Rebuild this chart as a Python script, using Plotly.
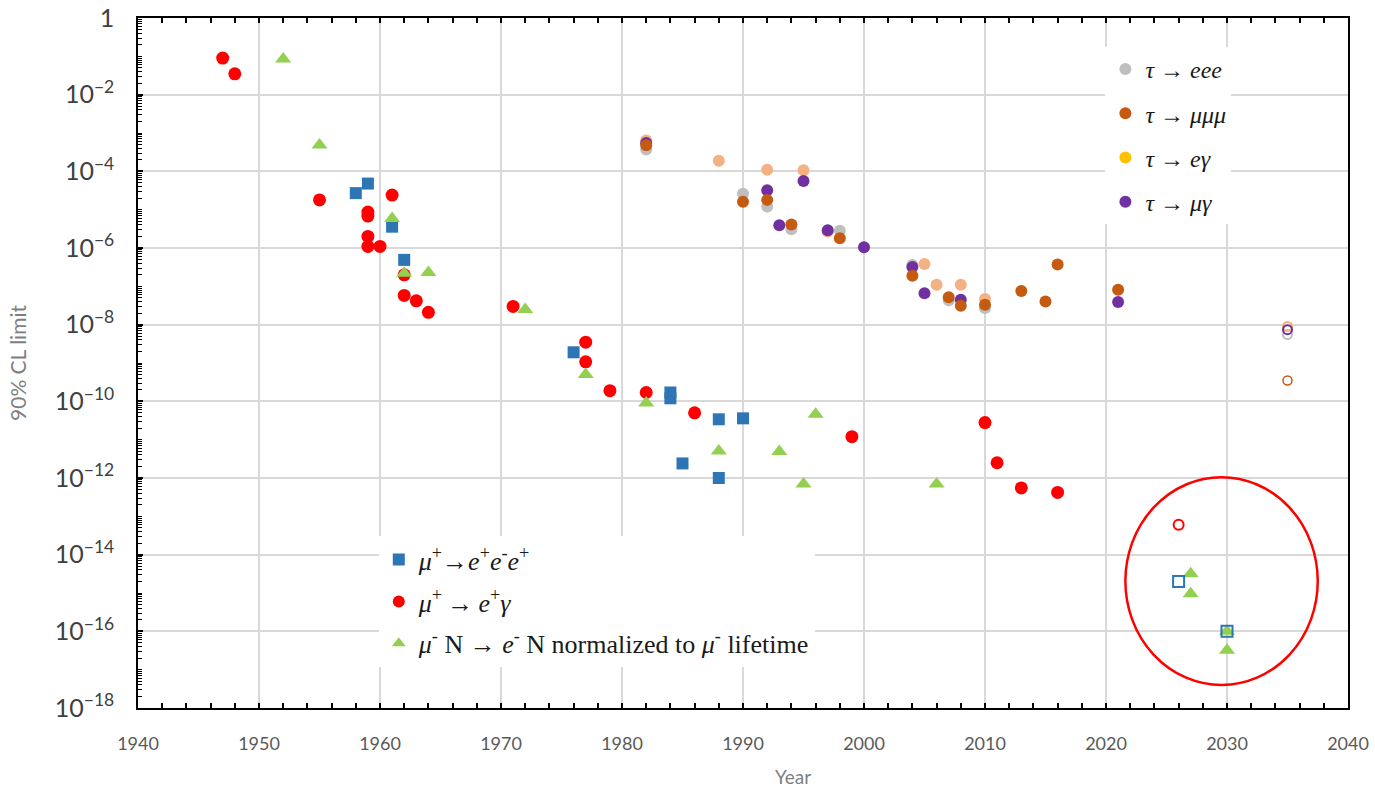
import plotly.graph_objects as go

# ---------------- data ----------------
# mu+ -> e+ e- e+ (blue squares)
meee_year = [1958, 1959, 1961, 1962, 1976, 1984, 1984, 1985, 1988, 1988, 1990]
meee_val = [2.7e-5, 4.8e-5, 3.6e-6, 4.9e-7, 1.9e-9, 1.7e-10, 1.2e-10, 2.4e-12, 3.4e-11, 1.0e-12, 3.6e-11]
meee_proj_year = [2026, 2030]
meee_proj_val = [2.0e-15, 1.0e-16]

# mu+ -> e+ gamma (red circles)
meg_year = [1947, 1948, 1955, 1959, 1959, 1959, 1959, 1960, 1961, 1962, 1962, 1963, 1964,
            1971, 1977, 1977, 1979, 1982, 1986, 1999, 2010, 2011, 2013, 2016]
meg_val = [9e-2, 3.5e-2, 1.8e-5, 8.7e-6, 6.8e-6, 2e-6, 1.1e-6, 1.1e-6, 2.4e-5, 2e-7, 5.8e-8, 4.2e-8, 2.1e-8,
           3e-8, 3.5e-9, 1.07e-9, 1.9e-10, 1.7e-10, 5e-11, 1.2e-11, 2.8e-11, 2.5e-12, 5.5e-13, 4.2e-13]
meg_proj_year = [2026]
meg_proj_val = [6e-14]

# mu- N -> e- N (green triangles)
mec_year = [1952, 1955, 1961, 1962, 1964, 1972, 1977, 1982, 1988, 1993, 1995, 1996, 2006]
mec_val = [8.5e-2, 4.9e-4, 5.9e-6, 2.2e-7, 2.3e-7, 2.5e-8, 5e-10, 9e-11, 5.1e-12, 4.9e-12, 7e-13, 4.6e-11, 7e-13]
mec_proj_year = [2027, 2027, 2030, 2030]
mec_proj_val = [3.2e-15, 9.5e-16, 1.0e-16, 3.2e-17]

# tau -> eee (gray)
teee_year = [1982, 1990, 1992, 1994, 1998, 2004, 2007, 2010]
teee_val = [3.7e-4, 2.6e-5, 1.2e-5, 3.1e-6, 2.8e-6, 3.6e-7, 4.3e-8, 2.7e-8]
teee_proj_year = [2035]
teee_proj_val = [5.5e-9]

# tau -> mu mu mu (orange)
tmmm_year = [1982, 1990, 1992, 1994, 1998, 2004, 2007, 2008, 2010, 2013, 2015, 2016, 2021]
tmmm_val = [4.8e-4, 1.6e-5, 1.8e-5, 4.1e-6, 1.8e-6, 1.9e-7, 5.2e-8, 3.1e-8, 3.3e-8, 7.6e-8, 4e-8, 3.7e-7, 8.1e-8]
tmmm_proj_year = [2035]
tmmm_proj_val = [3.5e-10]

# tau -> e gamma (peach)
teg_year = [1982, 1988, 1992, 1995, 1997, 2005, 2006, 2008, 2010]
teg_val = [6.4e-4, 1.9e-4, 1.1e-4, 1.07e-4, 2.7e-6, 3.8e-7, 1.1e-7, 1.1e-7, 4.7e-8]
teg_proj_year = [2035]
teg_proj_val = [9e-9]

# tau -> mu gamma (purple)
tmg_year = [1982, 1992, 1993, 1995, 1997, 2000, 2004, 2005, 2008, 2021]
tmg_val = [5.5e-4, 3.2e-5, 3.9e-6, 5.6e-5, 2.9e-6, 1.05e-6, 3.2e-7, 6.6e-8, 4.5e-8, 3.9e-8]
tmg_proj_year = [2035]
tmg_proj_val = [7.4e-9]

tau_labels = ["<i>τ</i> → <i>eee</i>", "<i>τ</i> → <i>μμμ</i>", "<i>τ</i> → <i>eγ</i>", "<i>τ</i> → <i>μγ</i>"]
mu_labels = ["<i>μ</i><sup>+</sup>→<i>e</i><sup>+</sup><i>e</i><sup>-</sup><i>e</i><sup>+</sup>",
             "<i>μ</i><sup>+</sup>\u2009→\u2009<i>e</i><sup>+</sup><i>γ</i>",
             "<i>μ</i><sup>-</sup> N → <i>e</i><sup>-</sup> N normalized to <i>μ</i><sup>-</sup> lifetime"]

year_ticks = list(range(1940, 2041, 10))

# ---------------- style ----------------
C_BLUE = "#2E75B6"
C_RED = "#FF0000"
C_GREEN = "#92D050"
C_GRAY = "#BFBFBF"
C_ORANGE = "#C55A11"
C_PEACH = "#F4B183"
C_GOLD = "#FFC000"
C_PURPLE = "#7030A0"

fig = go.Figure()


def pts(x, y, color, symbol, size, open_=False, lw=2):
    if open_:
        marker = dict(color=color, symbol=symbol, size=size, line=dict(color=color, width=lw))
    else:
        marker = dict(color=color, symbol=symbol, size=size, line=dict(width=0))
    fig.add_trace(go.Scatter(x=x, y=y, mode="markers", marker=marker, showlegend=False,
                             hoverinfo="x+y"))


# tau series (draw order: gray, peach, purple, orange)
pts(teee_year, teee_val, C_GRAY, "circle", 12)
pts(teg_year, teg_val, C_PEACH, "circle", 12)
pts(tmg_year, tmg_val, C_PURPLE, "circle", 12)
pts(tmmm_year, tmmm_val, C_ORANGE, "circle", 12)
pts(teee_proj_year, teee_proj_val, C_GRAY, "circle-open", 9, True, 2)
pts(teg_proj_year, teg_proj_val, C_PEACH, "circle-open", 9, True, 2)
pts(tmg_proj_year, tmg_proj_val, C_PURPLE, "circle-open", 9, True, 2)
pts(tmmm_proj_year, tmmm_proj_val, C_ORANGE, "circle-open", 9, True, 1.5)

# muon series
pts(meee_year, meee_val, C_BLUE, "square", 12)
pts(meg_year, meg_val, C_RED, "circle", 13)
pts(mec_year, mec_val, C_GREEN, "triangle-up", 14)
pts(meg_proj_year, meg_proj_val, C_RED, "circle-open", 10, True, 2)
pts(mec_proj_year, mec_proj_val, C_GREEN, "triangle-up", 14)
pts(meee_proj_year, meee_proj_val, C_BLUE, "square-open", 11, True, 2)

# legend-only entries
tau_colors = [C_GRAY, C_ORANGE, C_GOLD, C_PURPLE]
for i, (lab, col) in enumerate(zip(tau_labels, tau_colors)):
    fig.add_trace(go.Scatter(x=[None], y=[None], mode="markers", name=lab,
                             marker=dict(color=col, symbol="circle", size=13),
                             legend="legend", legendgroup="t%d" % i))
mu_colors = [C_BLUE, C_RED, C_GREEN]
mu_symbols = ["square", "circle", "triangle-up"]
for i, (lab, col, sym) in enumerate(zip(mu_labels, mu_colors, mu_symbols)):
    fig.add_trace(go.Scatter(x=[None], y=[None], mode="markers", name=lab,
                             marker=dict(color=col, symbol=sym, size=14),
                             legend="legend2", legendgroup="m%d" % i))

# helper traces for overlay tick axes
fig.add_trace(go.Scatter(x=[None], y=[None], xaxis="x2", yaxis="y2", showlegend=False, hoverinfo="skip"))

# minor log ticks
minor_vals = [k * 10.0 ** n for n in range(-18, 0) for k in range(1, 10)] + [1.0]

# ellipse around future projections
fig.add_shape(type="circle", xref="x", yref="y", x0=2021.6, x1=2037.5, y0=10 ** -17.4, y1=10 ** -11.98,
              line=dict(color="#FF0000", width=2.5), fillcolor="rgba(0,0,0,0)", layer="above")

# x-axis title (placed as in the reference, right of centre)
fig.add_annotation(text="Year", xref="paper", yref="paper", x=0.541, y=-0.0986,
                   xanchor="center", yanchor="middle", showarrow=False,
                   font=dict(family="Lato, sans-serif", size=19, color="#7F7F7F"))

GRID = "#D9D9D9"
fig.update_layout(
    width=1375, height=790,
    margin=dict(l=138, r=27, t=18, b=82),
    paper_bgcolor="white", plot_bgcolor="white",
    font=dict(family="Lato, sans-serif", color="#595959"),
    xaxis=dict(
        range=[1940, 2040], tickvals=year_ticks, showgrid=True, gridcolor=GRID, gridwidth=1.5,
        zeroline=False, showline=True, linecolor="black", linewidth=1.5, mirror=True,
        ticks="inside", ticklen=5, tickcolor="black", tickwidth=1.5, automargin=False,
        minor=dict(ticks="inside", dtick=2, tick0=1940, ticklen=5, tickcolor="black", tickwidth=1.5, showgrid=False),
        tickfont=dict(size=18, color="#595959"), ticklabelstandoff=19,
    ),
    xaxis2=dict(
        overlaying="x", side="top", anchor="y", range=[1940, 2040], dtick=2, tick0=1940,
        ticks="inside", ticklen=5, tickcolor="black", tickwidth=1.5, showticklabels=False,
        showgrid=False, showline=False, zeroline=False, automargin=False,
    ),
    yaxis=dict(
        type="log", range=[-18, 0], dtick=2, exponentformat="power",
        showgrid=True, gridcolor=GRID, gridwidth=1.5, zeroline=False,
        showline=True, linecolor="black", linewidth=1.5, mirror=True,
        ticks="inside", ticklen=5, tickcolor="black", tickwidth=1.5, automargin=False,
        tickfont=dict(size=20, color="#404040"), ticklabelstandoff=18,
        title=dict(text="90% CL limit", font=dict(size=21, color="#7F7F7F"), standoff=22),
    ),
    yaxis2=dict(
        type="log", overlaying="y", side="left", anchor="x", range=[-18, 0],
        tickmode="array", tickvals=minor_vals, ticks="inside", ticklen=4, tickcolor="black", tickwidth=1,
        showticklabels=False, showgrid=False, showline=False, zeroline=False, automargin=False,
    ),
    legend=dict(
        x=0.7995, y=0.958, xanchor="left", yanchor="top", bgcolor="white", borderwidth=0,
        font=dict(family="Liberation Serif, serif", size=24, color="#1a1a1a"),
        traceorder="grouped", tracegroupgap=10, itemsizing="constant",
    ),
    legend2=dict(
        x=0.199, y=0.249, xanchor="left", yanchor="top", bgcolor="white", borderwidth=0,
        font=dict(family="Liberation Serif, serif", size=26, color="#1a1a1a"),
        traceorder="grouped", tracegroupgap=5, itemsizing="constant",
    ),
)

fig.write_html("out.html")
